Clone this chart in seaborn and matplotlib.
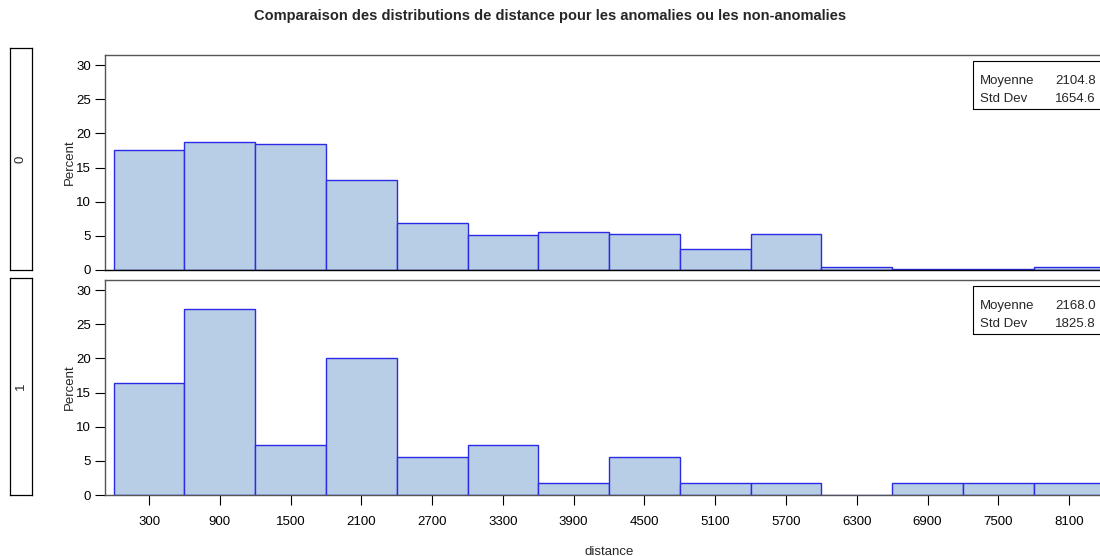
import numpy as np
import pandas as pd
import matplotlib
matplotlib.use('Agg')
import matplotlib.pyplot as plt
import seaborn as sns

# Bin midpoints and percent per bin
centres = [300, 900, 1500, 2100, 2700, 3300, 3900, 4500, 5100, 5700, 6300, 6900, 7500, 8100]
pct_0 = [17.6, 18.8, 18.5, 13.2, 6.9, 5.2, 5.6, 5.3, 3.1, 5.3, 0.4, 0.1, 0.1, 0.4]
pct_1 = [16.4, 27.3, 7.3, 20.0, 5.5, 7.3, 1.8, 5.5, 1.8, 1.8, 0.0, 1.8, 1.8, 1.8]
groups = ['0', '1']
stats = {'0': (2104.8, 1654.6), '1': (2168.0, 1825.8)}
bin_width = 600

df = pd.DataFrame({
    'distance': centres * 2,
    'pct': pct_0 + pct_1,
    'groupe': ['0'] * len(centres) + ['1'] * len(centres),
})

sns.set_style('white')
plt.rcParams['font.family'] = ['Liberation Sans', 'DejaVu Sans']

fig = plt.figure(figsize=(11, 5.56), dpi=100)
fig.suptitle('Comparaison des distributions de distance pour les anomalies ou les non-anomalies',
             fontsize=10.5, fontweight='bold', y=0.984)

fs = 9.5
frame_col = '#555555'
ax_left, ax_w, ax_h = 0.0955, 0.9164, 0.3867
bottoms = [0.5144, 0.1097]

for i, g in enumerate(groups):
    ax = fig.add_axes([ax_left, bottoms[i], ax_w, ax_h])
    sub = df[df['groupe'] == g]
    sns.histplot(data=sub, x='distance', weights='pct', binwidth=bin_width, binrange=(0, 8400),
                 stat='count', color='#b8cde6', alpha=1, edgecolor='#2b2be6', linewidth=1.0, ax=ax)
    ax.set_xlim(-73, 8473)
    ax.set_ylim(0, 31.5)
    ax.set_yticks(range(0, 31, 5))
    ax.set_xticks(centres)
    ax.set_ylabel('Percent', fontsize=fs, labelpad=0)
    ax.tick_params(axis='both', direction='out', length=7, width=0.8, colors='black',
                   labelsize=fs, left=True, bottom=True)
    ax.tick_params(axis='y', pad=3)
    for s in ax.spines.values():
        s.set_color(frame_col)
        s.set_linewidth(1.0)
    if i == 0:
        ax.set_xlabel('')
        ax.tick_params(axis='x', bottom=False, labelbottom=False)
        ax.spines['bottom'].set_color('black')
    else:
        ax.set_xlabel('distance', fontsize=fs, labelpad=13)
        ax.tick_params(axis='x', pad=8)

    # stats box, top right
    m, sd = stats[g]
    box_x = (973 - 1100 * ax_left) / (1100 * ax_w)
    ax.add_patch(plt.Rectangle((box_x, 0.749), 0.2, 0.223, transform=ax.transAxes,
                               fill=False, edgecolor='black', linewidth=0.8, clip_on=False))
    txt_x = (980 - 1100 * ax_left) / (1100 * ax_w)
    val_x = (1096 - 1100 * ax_left) / (1100 * ax_w)
    ax.text(txt_x, 0.866, 'Moyenne', transform=ax.transAxes, fontsize=fs, va='baseline')
    ax.text(txt_x, 0.782, 'Std Dev', transform=ax.transAxes, fontsize=fs, va='baseline')
    ax.text(val_x, 0.866, f'{m:.1f}', transform=ax.transAxes, fontsize=fs, va='baseline', ha='right')
    ax.text(val_x, 0.782, f'{sd:.1f}', transform=ax.transAxes, fontsize=fs, va='baseline', ha='right')

    # strip label on the far left
    top_px = 48 if i == 0 else 278
    bot_px = 270 if i == 0 else 495
    sax = fig.add_axes([10 / 1100, (556 - bot_px) / 556, 22 / 1100, (bot_px - top_px) / 556])
    sax.set_xticks([])
    sax.set_yticks([])
    for s in sax.spines.values():
        s.set_color('black')
        s.set_linewidth(0.9)
    sax.text(0.5, 0.5, g, rotation=90, ha='center', va='center', fontsize=fs,
             transform=sax.transAxes)

fig.savefig('out.png', dpi=100)
